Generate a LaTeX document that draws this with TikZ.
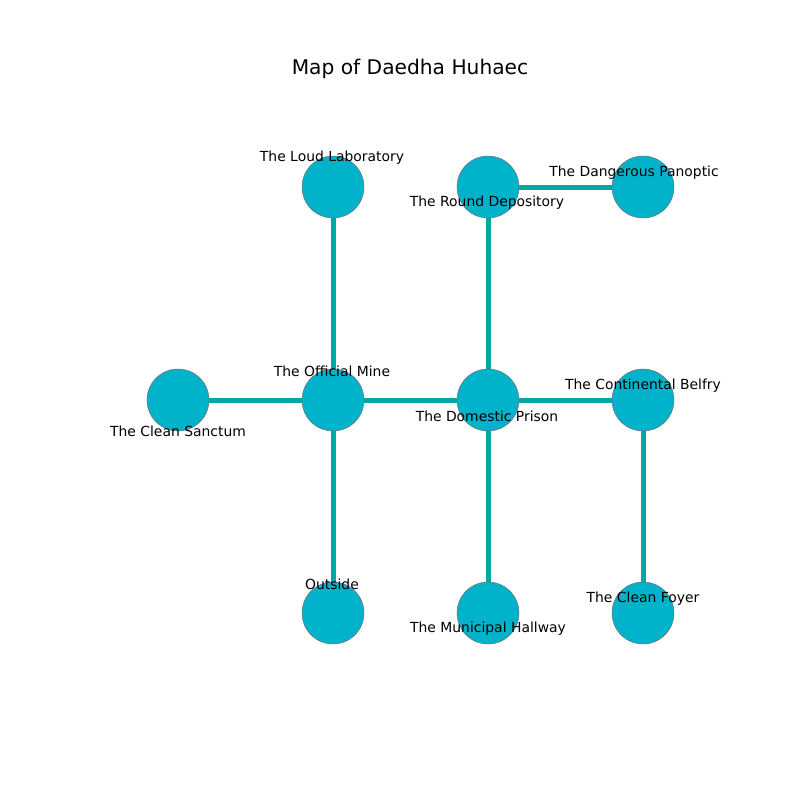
\documentclass[tikz,border=0pt]{standalone}
\usepackage{fontspec}
\setmainfont{DejaVu Sans}
\definecolor{nodecol}{HTML}{00B2CA}
\definecolor{edgecol}{HTML}{00A8A8}
\begin{document}
\begin{tikzpicture}[x=1pt,y=-1pt,
  place/.style={circle,fill=nodecol,draw=gray!90!black,line width=0.5pt,minimum size=62pt,inner sep=0pt},
  road/.style={edgecol,line width=5pt},
  lbl/.style={font=\fontsize{13.9}{16}\selectfont,inner sep=0pt,anchor=center}]
\useasboundingbox (0,0) rectangle (800,800);
\node[font=\fontsize{20.2}{24}\selectfont] (title) at (410,69) {Map of Daedha Huhaec};
\coordinate (loud) at (333,187);
\coordinate (round) at (488,187);
\coordinate (pan) at (643,187);
\coordinate (sanct) at (178,400);
\coordinate (mine) at (333,400);
\coordinate (prison) at (488,400);
\coordinate (belfry) at (643,400);
\coordinate (outside) at (333,613);
\coordinate (hall) at (488,613);
\coordinate (foyer) at (643,613);
\draw[road] (loud) -- (mine);
\draw[road] (round) -- (prison);
\draw[road] (round) -- (pan);
\draw[road] (sanct) -- (mine);
\draw[road] (mine) -- (prison);
\draw[road] (prison) -- (belfry);
\draw[road] (mine) -- (outside);
\draw[road] (prison) -- (hall);
\draw[road] (belfry) -- (foyer);
\foreach \n in {loud,round,pan,sanct,mine,prison,belfry,outside,hall,foyer}
  \node[place] (c\n) at (\n) {};
\node[lbl] (lloud) at (332,158) {The Loud Laboratory};
\node[lbl] (lround) at (487,203) {The Round Depository};
\node[lbl] (lpan) at (634,173) {The Dangerous Panoptic};
\node[lbl] (lmine) at (332,371) {The Official Mine};
\node[lbl] (lsanct) at (178,431) {The Clean Sanctum};
\node[lbl] (lprison) at (487,416) {The Domestic Prison};
\node[lbl] (lbelfry) at (643,386) {The Continental Belfry};
\node[lbl] (loutside) at (332,584) {Outside};
\node[lbl] (lhall) at (488,629) {The Municipal Hallway};
\node[lbl] (lfoyer) at (643,599) {The Clean Foyer};
\end{tikzpicture}
\end{document}
